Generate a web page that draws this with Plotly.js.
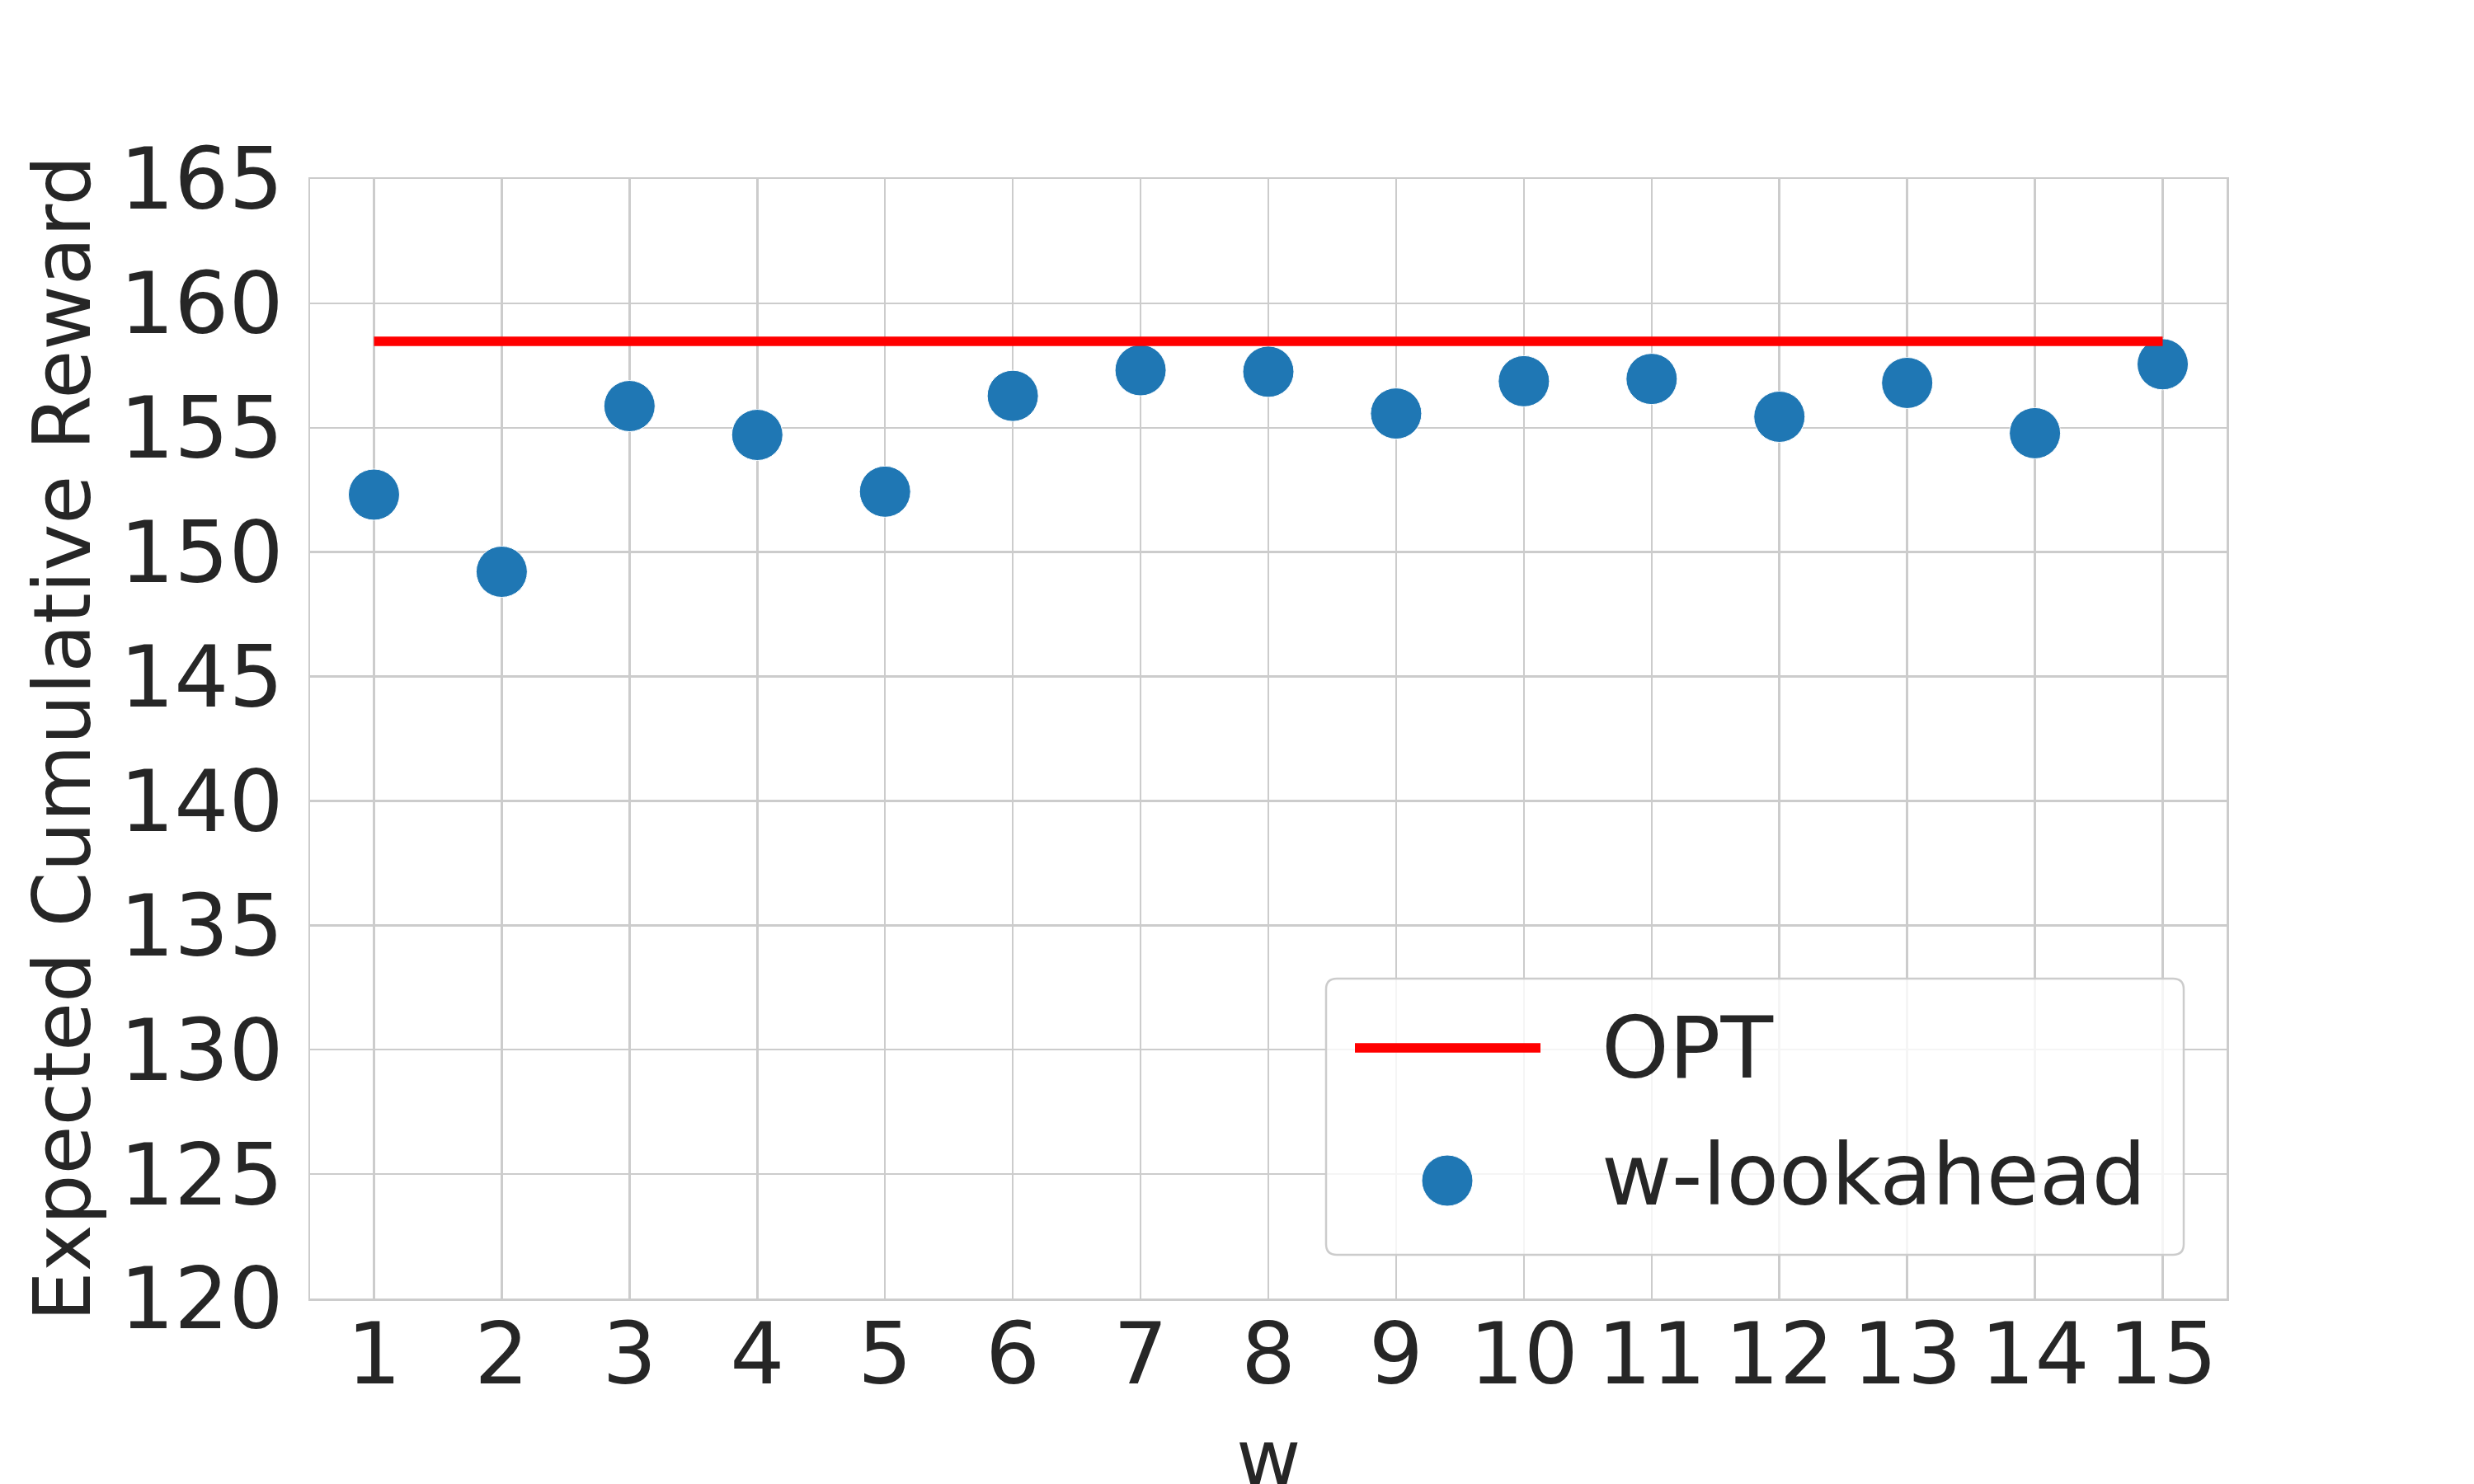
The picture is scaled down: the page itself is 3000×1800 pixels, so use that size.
<!DOCTYPE html>
<html>
<head>
<meta charset="utf-8">
<script src="https://cdn.plot.ly/plotly-3.0.1.min.js"></script>
<style>
  html, body { margin: 0; padding: 0; background: #ffffff; }
  #chart { width: 3000px; height: 1800px; }
</style>
</head>
<body>
<div id="chart"></div>
<script>
// ---- data ----
const wValues = [1, 2, 3, 4, 5, 6, 7, 8, 9, 10, 11, 12, 13, 14, 15];
const lookaheadReward = [152.31, 149.21, 155.87, 154.71, 152.43, 156.28, 157.31, 157.25,
                         155.57, 156.87, 156.96, 155.44, 156.80, 154.78, 157.55];
const optReward = 158.47;
const yTickValues = [120, 125, 130, 135, 140, 145, 150, 155, 160, 165];
const seriesNames = ['OPT', 'w-lookahead'];
const xAxisTitle = 'w';
const yAxisTitle = 'Expected Cumulative Reward';

// ---- layout geometry ----
const FIG_W = 3000, FIG_H = 1800;
const M = { l: 376, r: 300, t: 217, b: 225 };
const PW = FIG_W - M.l - M.r, PH = FIG_H - M.t - M.b;
const px2x = px => (px - M.l) / PW;
const py2y = py => (FIG_H - M.b - py) / PH;

const TEXT = '#262626';
const GRID = '#cccccc';
const FONT = 'DejaVu Sans, sans-serif';
const BLUE = '#1f77b4';
const RED = '#ff0000';

const traces = [
  {
    type: 'scatter', mode: 'markers', name: seriesNames[1],
    x: wValues, y: lookaheadReward,
    marker: { size: 62, color: BLUE, line: { color: '#ffffff', width: 1 } },
    showlegend: false
  },
  {
    type: 'scatter', mode: 'lines', name: seriesNames[0],
    x: wValues, y: wValues.map(() => optReward),
    line: { color: RED, width: 11.5 },
    showlegend: false
  }
];

// custom legend (matplotlib-style box)
function roundedRect(x0p, y0p, x1p, y1p, r) {
  const X = px2x, Y = py2y;
  return [
    'M', X(x0p + r), Y(y0p),
    'L', X(x1p - r), Y(y0p),
    'Q', X(x1p), Y(y0p), X(x1p), Y(y0p + r),
    'L', X(x1p), Y(y1p - r),
    'Q', X(x1p), Y(y1p), X(x1p - r), Y(y1p),
    'L', X(x0p + r), Y(y1p),
    'Q', X(x0p), Y(y1p), X(x0p), Y(y1p - r),
    'L', X(x0p), Y(y0p + r),
    'Q', X(x0p), Y(y0p), X(x0p + r), Y(y0p),
    'Z'
  ].join(' ');
}

const legBox = { x0: 1608, y0: 1187, x1: 2648, y1: 1522 };
const shapes = [
  {
    type: 'path', xref: 'paper', yref: 'paper', layer: 'above',
    path: roundedRect(legBox.x0, legBox.y0, legBox.x1, legBox.y1, 13),
    fillcolor: 'rgba(255,255,255,0.8)', line: { color: GRID, width: 2.5 }
  },
  {
    type: 'line', xref: 'paper', yref: 'paper', layer: 'above',
    x0: px2x(1643), x1: px2x(1868), y0: py2y(1271), y1: py2y(1271),
    line: { color: RED, width: 11.5 }
  },
  {
    type: 'circle', xref: 'paper', yref: 'paper', layer: 'above',
    x0: px2x(1755 - 31), x1: px2x(1755 + 31),
    y0: py2y(1432 - 31), y1: py2y(1432 + 31),
    fillcolor: BLUE, line: { color: '#ffffff', width: 1 }
  }
];

const annotations = [
  {
    xref: 'paper', yref: 'paper', x: px2x(1940), y: py2y(1271),
    xanchor: 'left', yanchor: 'middle', showarrow: false,
    text: seriesNames[0], font: { family: FONT, size: 104, color: TEXT }
  },
  {
    xref: 'paper', yref: 'paper', x: px2x(1940), y: py2y(1425),
    xanchor: 'left', yanchor: 'middle', showarrow: false,
    text: seriesNames[1], font: { family: FONT, size: 104, color: TEXT }
  },
  // axis titles
  {
    xref: 'paper', yref: 'paper', x: 0.5, y: py2y(1711),
    xanchor: 'center', yanchor: 'top', showarrow: false,
    text: xAxisTitle, font: { family: FONT, size: 96, color: TEXT }
  },
  {
    xref: 'paper', yref: 'paper', x: px2x(76), y: 0.5,
    xanchor: 'center', yanchor: 'middle', showarrow: false, textangle: -90,
    text: yAxisTitle, font: { family: FONT, size: 96, color: TEXT }
  }
];

const layout = {
  width: FIG_W, height: FIG_H,
  margin: M,
  paper_bgcolor: '#ffffff', plot_bgcolor: '#ffffff',
  font: { family: FONT, color: TEXT, size: 104 },
  showlegend: false,
  xaxis: {
    range: [0.5, 15.5],
    tickmode: 'array', tickvals: wValues, ticktext: wValues.map(String),
    tickfont: { family: FONT, size: 104, color: TEXT },
    ticks: '', ticklabelstandoff: -24,
    showgrid: true, gridcolor: GRID, gridwidth: 2.5,
    zeroline: false,
    showline: true, linecolor: GRID, linewidth: 2.5, mirror: true,
    automargin: false
  },
  yaxis: {
    range: [120, 165],
    tickmode: 'array', tickvals: yTickValues, ticktext: yTickValues.map(String),
    tickfont: { family: FONT, size: 104, color: TEXT },
    ticks: '', ticklabelstandoff: 9,
    showgrid: true, gridcolor: GRID, gridwidth: 2.5,
    zeroline: false,
    showline: true, linecolor: GRID, linewidth: 2.5, mirror: true,
    automargin: false
  },
  shapes: shapes,
  annotations: annotations
};

Plotly.newPlot('chart', traces, layout, { displayModeBar: false, staticPlot: true });
</script>
</body>
</html>
